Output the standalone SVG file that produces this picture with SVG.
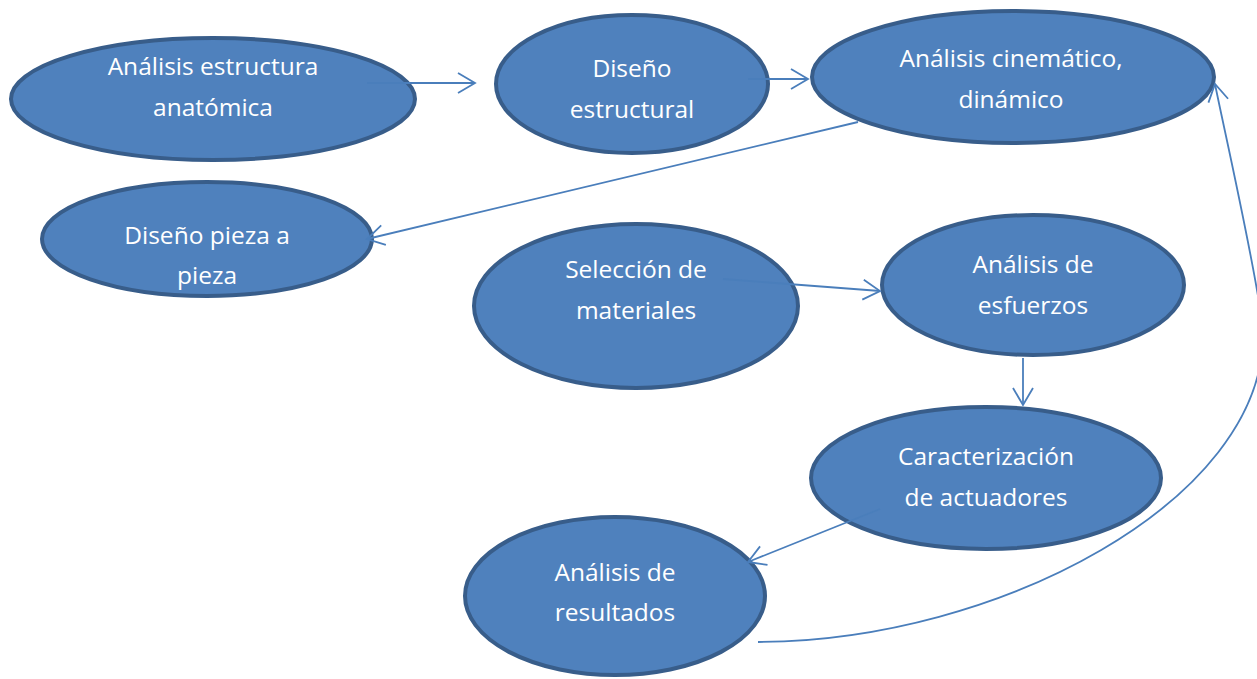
<svg xmlns="http://www.w3.org/2000/svg" width="1257" height="679" viewBox="0 0 1257 679">
<style>
.node ellipse{fill:#4F81BD;stroke:#385D8A;stroke-width:4}
.node text{font-family:"Open Sans","Noto Sans",sans-serif;font-size:24.5px;fill:#FFFFFF;text-anchor:middle}
.conn{fill:none;stroke:#4A7EBB;stroke-width:1.8;marker-end:url(#arr)}
</style>
<defs>
<marker id="arr" markerUnits="userSpaceOnUse" viewBox="-20 -12 22 24" refX="0" refY="0" markerWidth="22" markerHeight="24" orient="auto" overflow="visible">
<path d="M-17,-10 L0,0 L-17,10" fill="none" stroke="#4A7EBB" stroke-width="1.8"/>
</marker>
</defs>
<rect width="1257" height="679" fill="#FFFFFF"/>
<g id="n1" class="node"><ellipse cx="213" cy="99" rx="202" ry="61"/><text x="213" y="75">Análisis estructura</text><text x="213" y="116">anatómica</text></g>
<g id="n2" class="node"><ellipse cx="632" cy="84" rx="136" ry="69"/><text x="632" y="77">Diseño</text><text x="632" y="118">estructural</text></g>
<g id="n3" class="node"><ellipse cx="1013" cy="77" rx="201" ry="66"/><text x="1011" y="67">Análisis cinemático,</text><text x="1011" y="108">dinámico</text></g>
<g id="n4" class="node"><ellipse cx="207" cy="239" rx="165" ry="57"/><text x="207" y="244">Diseño pieza a</text><text x="207" y="284">pieza</text></g>
<g id="n5" class="node"><ellipse cx="636" cy="306" rx="162" ry="82"/><text x="636" y="278">Selección de</text><text x="636" y="319">materiales</text></g>
<g id="n6" class="node"><ellipse cx="1033" cy="285" rx="151" ry="70"/><text x="1033" y="273">Análisis de</text><text x="1033" y="314">esfuerzos</text></g>
<g id="n7" class="node"><ellipse cx="986" cy="478" rx="175" ry="71"/><text x="986" y="465">Caracterización</text><text x="986" y="506">de actuadores</text></g>
<g id="n8" class="node"><ellipse cx="615" cy="596" rx="150" ry="79"/><text x="615" y="581">Análisis de</text><text x="615" y="621">resultados</text></g>
<g id="connectors">
<path class="conn" d="M367,83 L475,83"/>
<path class="conn" d="M748,79 L808,79"/>
<path class="conn" d="M858,122 L367,239"/>
<path class="conn" d="M723,279 L880,291"/>
<path class="conn" d="M1023,358 L1023,405"/>
<path class="conn" d="M880,509 L748,562"/>
<path class="conn" d="M758,642 C1000,641 1263,500 1263,335 C1263,300 1222,120 1215,84"/>
</g>
</svg>
